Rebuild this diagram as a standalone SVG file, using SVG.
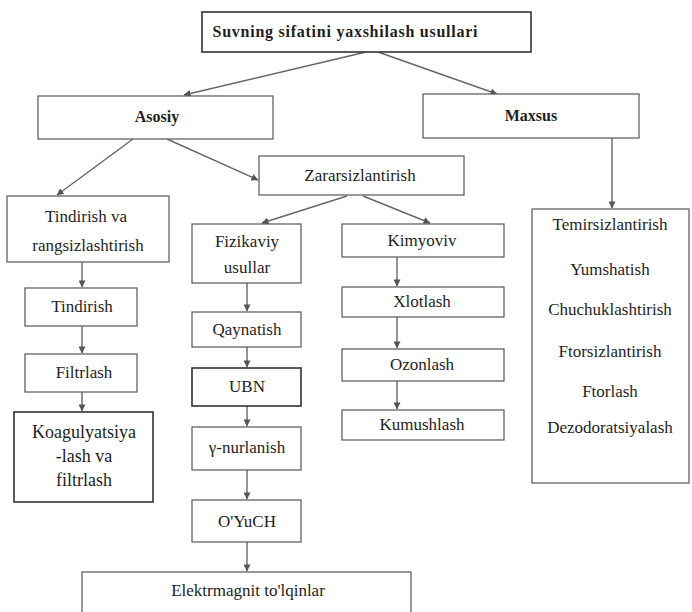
<svg xmlns="http://www.w3.org/2000/svg" width="692" height="612" viewBox="0 0 692 612">
<defs>
<marker id="ah" viewBox="0 0 8 8" refX="7.5" refY="4" markerWidth="7" markerHeight="7" markerUnits="userSpaceOnUse" orient="auto">
<path d="M0,0 L8,4 L0,8 Z" fill="#555"/>
</marker>
<style>
.box{fill:#fff;stroke:#555;stroke-width:1.2}
.dark{stroke:#333;stroke-width:1.6}
.t{font-family:"Liberation Serif","Times New Roman",serif;font-size:17px;fill:#1e1e1e;text-anchor:middle}
.b{font-weight:bold;font-size:16px}
.k{font-size:18px}
.c{fill:none;stroke:#666;stroke-width:1.4}
</style>
</defs>
<rect width="692" height="612" fill="#fff"/>
<g id="connectors">
<path class="c" d="M366,52 L184,95" marker-end="url(#ah)"/>
<path class="c" d="M378,52 L497,94" marker-end="url(#ah)"/>
<path class="c" d="M133,139 L57,195" marker-end="url(#ah)"/>
<path class="c" d="M167,139 L258,180" marker-end="url(#ah)"/>
<path class="c" d="M612,138 L612,208" marker-end="url(#ah)"/>
<path class="c" d="M347,196 L262,223" marker-end="url(#ah)"/>
<path class="c" d="M363,196 L430,223" marker-end="url(#ah)"/>
<path class="c" d="M82,262 L82,287" marker-end="url(#ah)"/>
<path class="c" d="M82,326 L82,353" marker-end="url(#ah)"/>
<path class="c" d="M82,392 L82,411" marker-end="url(#ah)"/>
<path class="c" d="M247,283 L247,311" marker-end="url(#ah)"/>
<path class="c" d="M247,347 L247,367" marker-end="url(#ah)"/>
<path class="c" d="M247,406 L247,426" marker-end="url(#ah)"/>
<path class="c" d="M247,470 L247,499" marker-end="url(#ah)"/>
<path class="c" d="M247,542 L247,571" marker-end="url(#ah)"/>
<path class="c" d="M397,257 L397,286" marker-end="url(#ah)"/>
<path class="c" d="M397,317 L397,348" marker-end="url(#ah)"/>
<path class="c" d="M397,381 L397,409" marker-end="url(#ah)"/>
</g>
<g id="title"><rect class="box dark" x="202" y="12" width="329" height="40"/><text class="t b" x="345" y="37" textLength="265">Suvning sifatini yaxshilash usullari</text></g>
<g id="asosiy"><rect class="box" x="38" y="96" width="235" height="43"/><text class="t b" x="157" y="122">Asosiy</text></g>
<g id="maxsus"><rect class="box" x="423" y="94" width="216" height="44"/><text class="t b" x="531" y="121">Maxsus</text></g>
<g id="zararsizlantirish"><rect class="box" x="259" y="156" width="205" height="39"/><text class="t" x="360" y="181">Zararsizlantirish</text></g>
<g id="tindirish-va"><rect class="box" x="7" y="196" width="162" height="66"/><text class="t" x="86" y="222">Tindirish va</text><text class="t" x="88" y="251">rangsizlashtirish</text></g>
<g id="tindirish"><rect class="box" x="25" y="288" width="112" height="38"/><text class="t" x="82" y="312">Tindirish</text></g>
<g id="filtrlash"><rect class="box" x="25" y="354" width="112" height="38"/><text class="t" x="84" y="378">Filtrlash</text></g>
<g id="koagulyatsiya"><rect class="box dark" x="14" y="412" width="139" height="90"/><text class="t k" x="84" y="438">Koagulyatsiya</text><text class="t k" x="84" y="462">-lash va</text><text class="t k" x="84" y="486">filtrlash</text></g>
<g id="fizikaviy"><rect class="box" x="192" y="224" width="109" height="59"/><text class="t" x="247" y="247">Fizikaviy</text><text class="t" x="247" y="273">usullar</text></g>
<g id="qaynatish"><rect class="box" x="192" y="312" width="109" height="35"/><text class="t" x="247" y="335">Qaynatish</text></g>
<g id="ubn"><rect class="box dark" x="192" y="368" width="109" height="38"/><text class="t" x="247" y="392">UBN</text></g>
<g id="gamma"><rect class="box" x="192" y="427" width="109" height="43"/><text class="t" x="247" y="453">γ-nurlanish</text></g>
<g id="ouych"><rect class="box" x="192" y="500" width="109" height="42"/><text class="t" x="247" y="527">O'YuCH</text></g>
<g id="elektrmagnit"><rect class="box" x="82" y="572" width="329" height="50"/><text class="t" x="248" y="596">Elektrmagnit to'lqinlar</text></g>
<g id="kimyoviv"><rect class="box" x="342" y="224" width="162" height="33"/><text class="t" x="422" y="246">Kimyoviv</text></g>
<g id="xlotlash"><rect class="box" x="342" y="287" width="162" height="30"/><text class="t" x="422" y="307">Xlotlash</text></g>
<g id="ozonlash"><rect class="box" x="342" y="349" width="162" height="32"/><text class="t" x="422" y="370">Ozonlash</text></g>
<g id="kumushlash"><rect class="box" x="342" y="410" width="162" height="30"/><text class="t" x="422" y="430">Kumushlash</text></g>
<g id="maxsus-list"><rect class="box" x="532" y="209" width="157" height="274"/>
<text class="t" x="610" y="230">Temirsizlantirish</text>
<text class="t" x="610" y="275">Yumshatish</text>
<text class="t" x="610" y="315">Chuchuklashtirish</text>
<text class="t" x="610" y="357">Ftorsizlantirish</text>
<text class="t" x="610" y="397">Ftorlash</text>
<text class="t" x="610" y="433">Dezodoratsiyalash</text>
</g>
</svg>
